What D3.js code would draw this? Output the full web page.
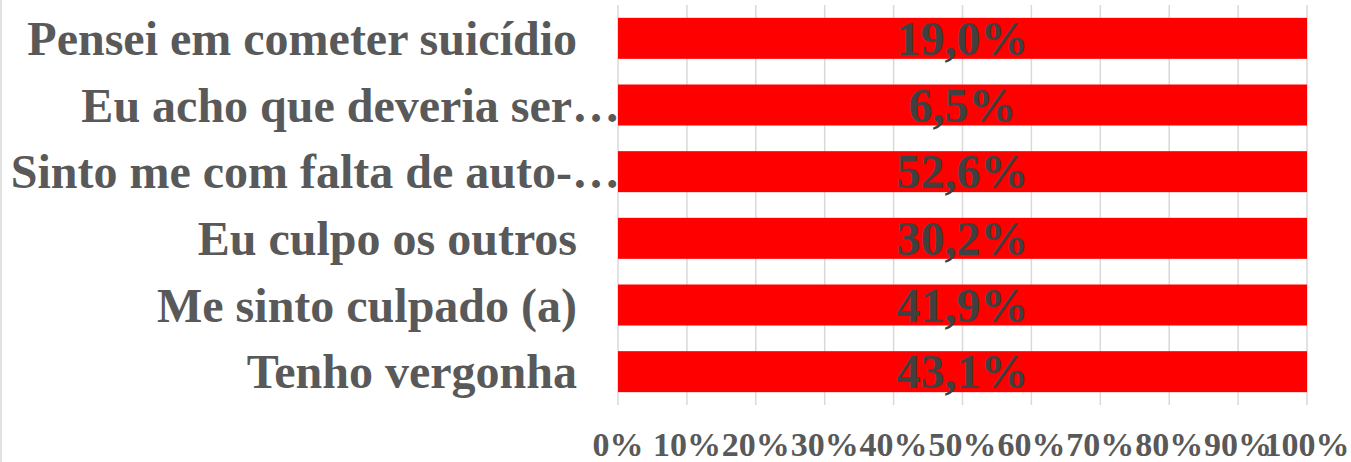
<!DOCTYPE html>
<html>
<head>
<meta charset="utf-8">
<script src="https://cdn.jsdelivr.net/npm/d3@7"></script>
<style>
  body { margin: 0; background: #fff; }
</style>
</head>
<body>
<div id="chart"></div>
<script>
//Chart data
var categories = ["Pensei em cometer suicídio", "Eu acho que deveria ser…",
                  "Sinto me com falta de auto-…", "Eu culpo os outros",
                  "Me sinto culpado (a)", "Tenho vergonha"];
var values = [19.0, 6.5, 52.6, 30.2, 41.9, 43.1];
var barTotal = [100, 100, 100, 100, 100, 100];
var tickValues = [0, 10, 20, 30, 40, 50, 60, 70, 80, 90, 100];

//Set sizes
var width = 1351, height = 462;
var plot = {left: 618, right: 1307, top: 5, bottom: 405};

var svg = d3.select("#chart")
            .append("svg")
            .attr("width", width)
            .attr("height", height);

//chart frame edge on the left
svg.append("line")
   .attr("x1", 1).attr("x2", 1)
   .attr("y1", 0).attr("y2", height)
   .attr("stroke", "#d9d9d9")
   .attr("stroke-width", 1.5);

var x = d3.scaleLinear()
          .domain([0, 100])
          .range([plot.left, plot.right]);

var y = d3.scaleBand()
          .domain(categories)
          .range([plot.top, plot.bottom])
          .paddingInner(0.385)
          .paddingOuter(0.1925);

//vertical gridlines
svg.append("g")
   .selectAll("line")
   .data(tickValues)
   .enter()
   .append("line")
   .attr("x1", function(d){return x(d);})
   .attr("x2", function(d){return x(d);})
   .attr("y1", plot.top)
   .attr("y2", plot.bottom)
   .attr("stroke", "#d9d9d9")
   .attr("stroke-width", 1.5);

//bars
svg.append("g")
   .selectAll("rect")
   .data(categories)
   .enter()
   .append("rect")
   .attr("x", x(0))
   .attr("y", function(d){return y(d);})
   .attr("width", function(d, i){return x(barTotal[i]) - x(0);})
   .attr("height", y.bandwidth())
   .attr("fill", "#ff0000");

//value labels in the middle of the bars
svg.append("g")
   .selectAll("text")
   .data(categories)
   .enter()
   .append("text")
   .attr("x", function(d, i){return x(barTotal[i] / 2);})
   .attr("y", function(d){return y(d) + y.bandwidth() / 2;})
   .attr("dy", "0.35em")
   .attr("text-anchor", "middle")
   .attr("font-family", "'Liberation Serif', serif")
   .attr("font-weight", "bold")
   .attr("font-size", "48px")
   .attr("fill", "#404040")
   .text(function(d, i){return values[i].toFixed(1).replace(".", ",") + "%";});

//category labels
svg.append("g")
   .selectAll("text")
   .data(categories)
   .enter()
   .append("text")
   .attr("x", function(d){return d.slice(-1) == "…" ? plot.left + 2 : plot.left - 41;})
   .attr("y", function(d){return y(d) + y.bandwidth() / 2;})
   .attr("dy", "0.35em")
   .attr("text-anchor", "end")
   .attr("font-family", "'Liberation Serif', serif")
   .attr("font-weight", "bold")
   .attr("font-size", "48px")
   .attr("fill", "#595959")
   .text(function(d){return d;});

//x axis tick labels
svg.append("g")
   .selectAll("text")
   .data(tickValues)
   .enter()
   .append("text")
   .attr("x", function(d){return x(d);})
   .attr("y", 456)
   .attr("text-anchor", "middle")
   .attr("font-family", "'Liberation Serif', serif")
   .attr("font-weight", "bold")
   .attr("font-size", "34px")
   .attr("fill", "#595959")
   .text(function(d){return d + "%";});
</script>
</body>
</html>
